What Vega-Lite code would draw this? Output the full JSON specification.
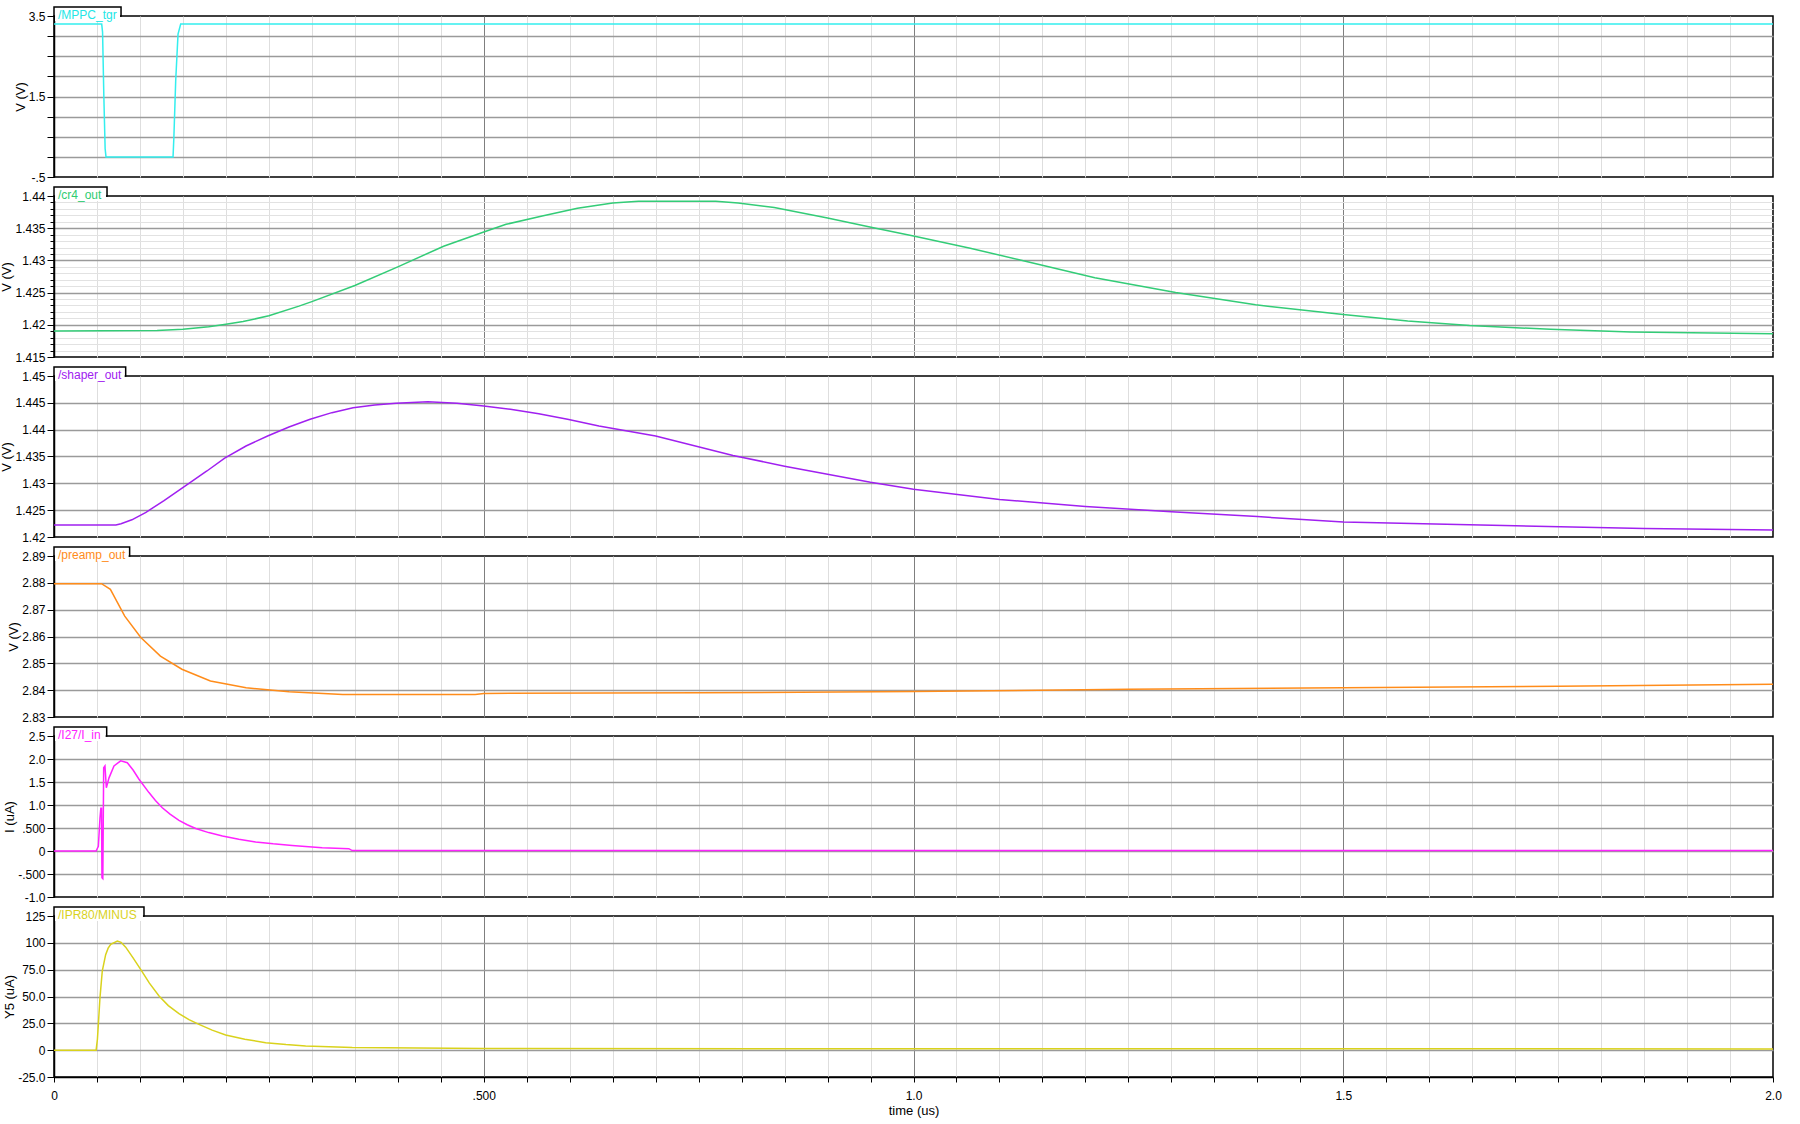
{
  "$schema": "https://vega.github.io/schema/vega-lite/v6.json",
  "background": "white",
  "padding": {"left": 0, "top": 5, "right": 0, "bottom": 0},
  "bounds": "flush",
  "spacing": 19,
  "config": {
    "view": {"stroke": "#000", "strokeWidth": 1.5},
    "axis": {
      "domainColor": "#000", "domainWidth": 1.5, "tickColor": "#000", "tickWidth": 1,
      "labelColor": "#000", "labelFont": "Liberation Sans", "labelFontSize": 12,
      "titleFont": "Liberation Sans", "titleFontSize": 13, "titleFontWeight": "normal", "titleColor": "#000",
      "labelFlush": false, "labelOverlap": false, "labelBound": false, "tickCount": 100
    },
    "axisY": {"labelPadding": 2, "titlePadding": 1, "tickSize": 7},
    "text": {"font": "Liberation Sans"}
  },
  "datasets": {
    "mppc": [
      {"t": 0, "v": 3.3}, {"t": 0.0555, "v": 3.3}, {"t": 0.0565, "v": 3.1}, {"t": 0.058, "v": 1.5},
      {"t": 0.0595, "v": 0.2}, {"t": 0.0605, "v": 0}, {"t": 0.1385, "v": 0}, {"t": 0.1395, "v": 0.5},
      {"t": 0.1416, "v": 1.9}, {"t": 0.1443, "v": 3.05}, {"t": 0.1474, "v": 3.3}, {"t": 2.0, "v": 3.3}
    ],
    "cr4": [
      {"t": 0, "v": 1.41904}, {"t": 0.12, "v": 1.4191}, {"t": 0.15, "v": 1.4193}, {"t": 0.18, "v": 1.4197},
      {"t": 0.2, "v": 1.4201}, {"t": 0.22, "v": 1.4205}, {"t": 0.25, "v": 1.4214}, {"t": 0.285, "v": 1.4229},
      {"t": 0.3, "v": 1.4236}, {"t": 0.35, "v": 1.4261}, {"t": 0.4, "v": 1.429}, {"t": 0.4533, "v": 1.4322},
      {"t": 0.5, "v": 1.4344}, {"t": 0.526, "v": 1.4356}, {"t": 0.568, "v": 1.4369}, {"t": 0.609, "v": 1.4381},
      {"t": 0.65, "v": 1.4389}, {"t": 0.68, "v": 1.4392}, {"t": 0.77, "v": 1.4392}, {"t": 0.796, "v": 1.4389},
      {"t": 0.838, "v": 1.4382}, {"t": 0.9, "v": 1.4366}, {"t": 0.952, "v": 1.4351}, {"t": 1.0, "v": 1.4338},
      {"t": 1.066, "v": 1.4319}, {"t": 1.129, "v": 1.4299}, {"t": 1.211, "v": 1.4273}, {"t": 1.305, "v": 1.425},
      {"t": 1.398, "v": 1.4231}, {"t": 1.5, "v": 1.4216}, {"t": 1.575, "v": 1.4206}, {"t": 1.647, "v": 1.4199},
      {"t": 1.741, "v": 1.4193}, {"t": 1.835, "v": 1.4189}, {"t": 2.0, "v": 1.4186}
    ],
    "shaper": [
      {"t": 0, "v": 1.42224}, {"t": 0.072, "v": 1.42224}, {"t": 0.078, "v": 1.42248}, {"t": 0.0906, "v": 1.4232},
      {"t": 0.107, "v": 1.4246}, {"t": 0.128, "v": 1.4268}, {"t": 0.157, "v": 1.43},
      {"t": 0.1779, "v": 1.4323}, {"t": 0.1986, "v": 1.4347}, {"t": 0.2234, "v": 1.43696}, {"t": 0.2485, "v": 1.43882},
      {"t": 0.2734, "v": 1.4405}, {"t": 0.298, "v": 1.44193}, {"t": 0.3233, "v": 1.44317}, {"t": 0.348, "v": 1.4441},
      {"t": 0.3731, "v": 1.44461}, {"t": 0.398, "v": 1.44491}, {"t": 0.435, "v": 1.4452}, {"t": 0.4688, "v": 1.44491},
      {"t": 0.5, "v": 1.4444}, {"t": 0.531, "v": 1.44379}, {"t": 0.564, "v": 1.44298}, {"t": 0.5975, "v": 1.44193},
      {"t": 0.634, "v": 1.44068}, {"t": 0.7, "v": 1.4388}, {"t": 0.79, "v": 1.4352}, {"t": 0.85, "v": 1.4332},
      {"t": 0.95, "v": 1.4302}, {"t": 1.0, "v": 1.4289}, {"t": 1.1, "v": 1.427}, {"t": 1.2, "v": 1.4257},
      {"t": 1.3, "v": 1.4247}, {"t": 1.4, "v": 1.4238}, {"t": 1.5, "v": 1.4228}, {"t": 1.7, "v": 1.4221},
      {"t": 1.85, "v": 1.4216}, {"t": 2.0, "v": 1.4213}
    ],
    "preamp": [
      {"t": 0, "v": 2.8797}, {"t": 0.0553, "v": 2.8797}, {"t": 0.0656, "v": 2.8776}, {"t": 0.0823, "v": 2.8676},
      {"t": 0.101, "v": 2.8596}, {"t": 0.1238, "v": 2.8527}, {"t": 0.1488, "v": 2.8478}, {"t": 0.182, "v": 2.8434},
      {"t": 0.2235, "v": 2.8409}, {"t": 0.2735, "v": 2.8394}, {"t": 0.336, "v": 2.8384}, {"t": 0.49, "v": 2.8384},
      {"t": 0.5, "v": 2.8388}, {"t": 0.75, "v": 2.839}, {"t": 1.0, "v": 2.8395}, {"t": 1.25, "v": 2.8403},
      {"t": 1.5, "v": 2.8409}, {"t": 1.75, "v": 2.8415}, {"t": 2.0, "v": 2.8422}
    ],
    "iin": [
      {"t": 0, "v": 0}, {"t": 0.049, "v": 0}, {"t": 0.0516, "v": 0.1}, {"t": 0.0535, "v": 0.72},
      {"t": 0.0545, "v": 0.93}, {"t": 0.0553, "v": 0.93}, {"t": 0.0558, "v": -0.58}, {"t": 0.0568, "v": -0.6},
      {"t": 0.0578, "v": 1.81}, {"t": 0.0593, "v": 1.85}, {"t": 0.0609, "v": 1.375}, {"t": 0.064, "v": 1.59},
      {"t": 0.0698, "v": 1.85}, {"t": 0.0776, "v": 1.96}, {"t": 0.0853, "v": 1.92}, {"t": 0.092, "v": 1.76},
      {"t": 0.0989, "v": 1.56}, {"t": 0.1105, "v": 1.27}, {"t": 0.118, "v": 1.1}, {"t": 0.126, "v": 0.94},
      {"t": 0.135, "v": 0.8}, {"t": 0.1454, "v": 0.667}, {"t": 0.155, "v": 0.57}, {"t": 0.1649, "v": 0.49},
      {"t": 0.18, "v": 0.4}, {"t": 0.196, "v": 0.326}, {"t": 0.215, "v": 0.255}, {"t": 0.2346, "v": 0.196},
      {"t": 0.255, "v": 0.155}, {"t": 0.277, "v": 0.12}, {"t": 0.312, "v": 0.07}, {"t": 0.343, "v": 0.05},
      {"t": 0.347, "v": 0.01}, {"t": 2.0, "v": 0.01}
    ],
    "ipr": [
      {"t": 0, "v": 0}, {"t": 0.049, "v": 0}, {"t": 0.0505, "v": 10}, {"t": 0.0516, "v": 24}, {"t": 0.0535, "v": 49},
      {"t": 0.0562, "v": 74}, {"t": 0.0601, "v": 89}, {"t": 0.063, "v": 95}, {"t": 0.066, "v": 98.7}, {"t": 0.0737, "v": 101.7},
      {"t": 0.078, "v": 100.5}, {"t": 0.0834, "v": 96}, {"t": 0.092, "v": 86}, {"t": 0.1008, "v": 75.3}, {"t": 0.111, "v": 62.5},
      {"t": 0.1222, "v": 50.5}, {"t": 0.133, "v": 41.5}, {"t": 0.1454, "v": 34}, {"t": 0.157, "v": 28.5}, {"t": 0.1687, "v": 24},
      {"t": 0.184, "v": 18.7}, {"t": 0.1997, "v": 14.2}, {"t": 0.222, "v": 10.2}, {"t": 0.2463, "v": 7}, {"t": 0.27, "v": 5.2},
      {"t": 0.2928, "v": 3.9}, {"t": 0.347, "v": 2.4}, {"t": 0.5, "v": 1.6}, {"t": 1.0, "v": 1.3}, {"t": 2.0, "v": 1.2}
    ]
  },
  "vconcat": [
    {
      "width": 1719, "height": 161,
      "layer": [
        {
          "data": {"name": "mppc"},
          "mark": {"type": "line", "color": "#33eeee", "strokeWidth": 1.5},
          "encoding": {
            "x": {"field": "t", "type": "quantitative", "scale": {"domain": [0, 2], "nice": false, "zero": false},
              "axis": {"values": [0,0.05,0.1,0.15,0.2,0.25,0.3,0.35,0.4,0.45,0.5,0.55,0.6,0.65,0.7,0.75,0.8,0.85,0.9,0.95,1,1.05,1.1,1.15,1.2,1.25,1.3,1.35,1.4,1.45,1.5,1.55,1.6,1.65,1.7,1.75,1.8,1.85,1.9,1.95,2],
                "tickCount": 100, "labels": false, "ticks": false, "domain": false, "title": null, "grid": true, "gridWidth": 1,
                "gridColor": {"condition": [{"test": "datum.value == 0 || datum.value == 2", "value": "transparent"}, {"test": "datum.value == 0.5 || datum.value == 1 || datum.value == 1.5", "value": "#7f7f7f"}], "value": "#dedede"}}},
            "y": {"field": "v", "type": "quantitative", "scale": {"domain": [-0.5, 3.5], "nice": false, "zero": false},
              "axis": {"values": [-0.5,0,0.5,1,1.5,2,2.5,3,3.5], "tickCount": 100, "title": "V (V)", "grid": true, "gridWidth": 1.5,
                "labelExpr": "datum.value == 3.5 ? '3.5' : datum.value == 1.5 ? '1.5' : datum.value == -0.5 ? '-.5' : ''",
                "gridColor": {"condition": {"test": "datum.value == -0.5 || datum.value == 3.5", "value": "transparent"}, "value": "#9a9a9a"}}}
          }
        },
        {
          "data": {"values": [{"label": "/MPPC_tgr"}]},
          "mark": {"type": "rect", "fill": "white", "stroke": "#000", "strokeWidth": 1.5},
          "encoding": {"x": {"datum": 0}, "x2": {"datum": 0.078}, "y": {"datum": 3.5}, "y2": {"datum": 3.7236}}
        },
        {
          "data": {"values": [{"label": "/MPPC_tgr"}]},
          "mark": {"type": "rect", "fill": "white", "strokeWidth": 0},
          "encoding": {"x": {"datum": 0.0012}, "x2": {"datum": 0.0768}, "y": {"datum": 3.3758}, "y2": {"datum": 3.5248}}
        },
        {
          "data": {"values": [{"label": "/MPPC_tgr"}]},
          "mark": {"type": "text", "align": "left", "baseline": "alphabetic", "dx": 4, "dy": 3, "fontSize": 12, "color": "#22e6e6"},
          "encoding": {"x": {"datum": 0}, "y": {"datum": 3.5}, "text": {"field": "label"}}
        }
      ]
    },
    {
      "width": 1719, "height": 161,
      "layer": [
        {
          "data": {"name": "cr4"},
          "mark": {"type": "line", "color": "#33cc77", "strokeWidth": 1.5},
          "encoding": {
            "x": {"field": "t", "type": "quantitative", "scale": {"domain": [0, 2], "nice": false, "zero": false},
              "axis": {"values": [0,0.05,0.1,0.15,0.2,0.25,0.3,0.35,0.4,0.45,0.5,0.55,0.6,0.65,0.7,0.75,0.8,0.85,0.9,0.95,1,1.05,1.1,1.15,1.2,1.25,1.3,1.35,1.4,1.45,1.5,1.55,1.6,1.65,1.7,1.75,1.8,1.85,1.9,1.95,2],
                "tickCount": 100, "labels": false, "ticks": false, "domain": false, "title": null, "grid": true, "gridWidth": 1,
                "gridColor": {"condition": [{"test": "datum.value == 0 || datum.value == 2", "value": "transparent"}, {"test": "datum.value == 0.5 || datum.value == 1 || datum.value == 1.5", "value": "#7f7f7f"}], "value": "#dedede"}}},
            "y": {"field": "v", "type": "quantitative", "scale": {"domain": [1.415, 1.44], "nice": false, "zero": false},
              "axis": {"values": [1.415,1.416,1.417,1.418,1.419,1.42,1.421,1.422,1.423,1.424,1.425,1.426,1.427,1.428,1.429,1.43,1.431,1.432,1.433,1.434,1.435,1.436,1.437,1.438,1.439,1.44],
                "tickCount": 100, "title": "V (V)", "grid": true,
                "labelExpr": "indexof([1.415,1.42,1.425,1.43,1.435,1.44], datum.value) >= 0 ? format(datum.value, '~g') : ''",
                "tickSize": {"condition": {"test": "indexof([1.415,1.42,1.425,1.43,1.435,1.44], datum.value) >= 0", "value": 7}, "value": 4},
                "gridWidth": {"condition": {"test": "indexof([1.42,1.425,1.43,1.435], datum.value) >= 0", "value": 1.5}, "value": 1},
                "gridColor": {"condition": [{"test": "datum.value == 1.415 || datum.value == 1.44", "value": "transparent"}, {"test": "indexof([1.42,1.425,1.43,1.435], datum.value) >= 0", "value": "#9a9a9a"}], "value": "#e2e2e2"}}}
          }
        },
        {
          "data": {"values": [{"label": "/cr4_out"}]},
          "mark": {"type": "rect", "fill": "white", "stroke": "#000", "strokeWidth": 1.5},
          "encoding": {"x": {"datum": 0}, "x2": {"datum": 0.0617}, "y": {"datum": 1.44}, "y2": {"datum": 1.4414}}
        },
        {
          "data": {"values": [{"label": "/cr4_out"}]},
          "mark": {"type": "rect", "fill": "white", "strokeWidth": 0},
          "encoding": {"x": {"datum": 0.0012}, "x2": {"datum": 0.0605}, "y": {"datum": 1.439224}, "y2": {"datum": 1.440155}}
        },
        {
          "data": {"values": [{"label": "/cr4_out"}]},
          "mark": {"type": "text", "align": "left", "baseline": "alphabetic", "dx": 4, "dy": 3, "fontSize": 12, "color": "#2ecc71"},
          "encoding": {"x": {"datum": 0}, "y": {"datum": 1.44}, "text": {"field": "label"}}
        }
      ]
    },
    {
      "width": 1719, "height": 161,
      "layer": [
        {
          "data": {"name": "shaper"},
          "mark": {"type": "line", "color": "#a020f0", "strokeWidth": 1.5},
          "encoding": {
            "x": {"field": "t", "type": "quantitative", "scale": {"domain": [0, 2], "nice": false, "zero": false},
              "axis": {"values": [0,0.05,0.1,0.15,0.2,0.25,0.3,0.35,0.4,0.45,0.5,0.55,0.6,0.65,0.7,0.75,0.8,0.85,0.9,0.95,1,1.05,1.1,1.15,1.2,1.25,1.3,1.35,1.4,1.45,1.5,1.55,1.6,1.65,1.7,1.75,1.8,1.85,1.9,1.95,2],
                "tickCount": 100, "labels": false, "ticks": false, "domain": false, "title": null, "grid": true, "gridWidth": 1,
                "gridColor": {"condition": [{"test": "datum.value == 0 || datum.value == 2", "value": "transparent"}, {"test": "datum.value == 0.5 || datum.value == 1 || datum.value == 1.5", "value": "#7f7f7f"}], "value": "#dedede"}}},
            "y": {"field": "v", "type": "quantitative", "scale": {"domain": [1.42, 1.45], "nice": false, "zero": false},
              "axis": {"values": [1.42,1.425,1.43,1.435,1.44,1.445,1.45], "tickCount": 100, "title": "V (V)", "grid": true, "gridWidth": 1.5, "format": "~g",
                "gridColor": {"condition": {"test": "datum.value == 1.42 || datum.value == 1.45", "value": "transparent"}, "value": "#9a9a9a"}}}
          }
        },
        {
          "data": {"values": [{"label": "/shaper_out"}]},
          "mark": {"type": "rect", "fill": "white", "stroke": "#000", "strokeWidth": 1.5},
          "encoding": {"x": {"datum": 0}, "x2": {"datum": 0.0834}, "y": {"datum": 1.45}, "y2": {"datum": 1.451677}}
        },
        {
          "data": {"values": [{"label": "/shaper_out"}]},
          "mark": {"type": "rect", "fill": "white", "strokeWidth": 0},
          "encoding": {"x": {"datum": 0.0012}, "x2": {"datum": 0.0822}, "y": {"datum": 1.449068}, "y2": {"datum": 1.450186}}
        },
        {
          "data": {"values": [{"label": "/shaper_out"}]},
          "mark": {"type": "text", "align": "left", "baseline": "alphabetic", "dx": 4, "dy": 3, "fontSize": 12, "color": "#a020f0"},
          "encoding": {"x": {"datum": 0}, "y": {"datum": 1.45}, "text": {"field": "label"}}
        }
      ]
    },
    {
      "width": 1719, "height": 161,
      "layer": [
        {
          "data": {"name": "preamp"},
          "mark": {"type": "line", "color": "#ff8c1a", "strokeWidth": 1.5},
          "encoding": {
            "x": {"field": "t", "type": "quantitative", "scale": {"domain": [0, 2], "nice": false, "zero": false},
              "axis": {"values": [0,0.05,0.1,0.15,0.2,0.25,0.3,0.35,0.4,0.45,0.5,0.55,0.6,0.65,0.7,0.75,0.8,0.85,0.9,0.95,1,1.05,1.1,1.15,1.2,1.25,1.3,1.35,1.4,1.45,1.5,1.55,1.6,1.65,1.7,1.75,1.8,1.85,1.9,1.95,2],
                "tickCount": 100, "labels": false, "ticks": false, "domain": false, "title": null, "grid": true, "gridWidth": 1,
                "gridColor": {"condition": [{"test": "datum.value == 0 || datum.value == 2", "value": "transparent"}, {"test": "datum.value == 0.5 || datum.value == 1 || datum.value == 1.5", "value": "#7f7f7f"}], "value": "#dedede"}}},
            "y": {"field": "v", "type": "quantitative", "scale": {"domain": [2.83, 2.89], "nice": false, "zero": false},
              "axis": {"values": [2.83,2.84,2.85,2.86,2.87,2.88,2.89], "tickCount": 100, "title": "V (V)", "grid": true, "gridWidth": 1.5, "format": ".2f",
                "gridColor": {"condition": {"test": "datum.value == 2.83 || datum.value == 2.89", "value": "transparent"}, "value": "#9a9a9a"}}}
          }
        },
        {
          "data": {"values": [{"label": "/preamp_out"}]},
          "mark": {"type": "rect", "fill": "white", "stroke": "#000", "strokeWidth": 1.5},
          "encoding": {"x": {"datum": 0}, "x2": {"datum": 0.088}, "y": {"datum": 2.89}, "y2": {"datum": 2.893354}}
        },
        {
          "data": {"values": [{"label": "/preamp_out"}]},
          "mark": {"type": "rect", "fill": "white", "strokeWidth": 0},
          "encoding": {"x": {"datum": 0.0012}, "x2": {"datum": 0.0868}, "y": {"datum": 2.888137}, "y2": {"datum": 2.890373}}
        },
        {
          "data": {"values": [{"label": "/preamp_out"}]},
          "mark": {"type": "text", "align": "left", "baseline": "alphabetic", "dx": 4, "dy": 3, "fontSize": 12, "color": "#ff8c1a"},
          "encoding": {"x": {"datum": 0}, "y": {"datum": 2.89}, "text": {"field": "label"}}
        }
      ]
    },
    {
      "width": 1719, "height": 161,
      "layer": [
        {
          "data": {"name": "iin"},
          "mark": {"type": "line", "color": "#ff22ff", "strokeWidth": 1.5},
          "encoding": {
            "x": {"field": "t", "type": "quantitative", "scale": {"domain": [0, 2], "nice": false, "zero": false},
              "axis": {"values": [0,0.05,0.1,0.15,0.2,0.25,0.3,0.35,0.4,0.45,0.5,0.55,0.6,0.65,0.7,0.75,0.8,0.85,0.9,0.95,1,1.05,1.1,1.15,1.2,1.25,1.3,1.35,1.4,1.45,1.5,1.55,1.6,1.65,1.7,1.75,1.8,1.85,1.9,1.95,2],
                "tickCount": 100, "labels": false, "ticks": false, "domain": false, "title": null, "grid": true, "gridWidth": 1,
                "gridColor": {"condition": [{"test": "datum.value == 0 || datum.value == 2", "value": "transparent"}, {"test": "datum.value == 0.5 || datum.value == 1 || datum.value == 1.5", "value": "#7f7f7f"}], "value": "#dedede"}}},
            "y": {"field": "v", "type": "quantitative", "scale": {"domain": [-1, 2.5], "nice": false, "zero": false},
              "axis": {"values": [-1,-0.5,0,0.5,1,1.5,2,2.5], "tickCount": 100, "title": "I (uA)", "grid": true, "gridWidth": 1.5,
                "labelExpr": "datum.value == -1 ? '-1.0' : datum.value == -0.5 ? '-.500' : datum.value == 0 ? '0' : datum.value == 0.5 ? '.500' : format(datum.value, '.1f')",
                "gridColor": {"condition": {"test": "datum.value == -1 || datum.value == 2.5", "value": "transparent"}, "value": "#9a9a9a"}}}
          }
        },
        {
          "data": {"values": [{"label": "/I27/I_in"}]},
          "mark": {"type": "rect", "fill": "white", "stroke": "#000", "strokeWidth": 1.5},
          "encoding": {"x": {"datum": 0}, "x2": {"datum": 0.0613}, "y": {"datum": 2.5}, "y2": {"datum": 2.6957}}
        },
        {
          "data": {"values": [{"label": "/I27/I_in"}]},
          "mark": {"type": "rect", "fill": "white", "strokeWidth": 0},
          "encoding": {"x": {"datum": 0.0012}, "x2": {"datum": 0.0601}, "y": {"datum": 2.3913}, "y2": {"datum": 2.5217}}
        },
        {
          "data": {"values": [{"label": "/I27/I_in"}]},
          "mark": {"type": "text", "align": "left", "baseline": "alphabetic", "dx": 4, "dy": 3, "fontSize": 12, "color": "#ff22ff"},
          "encoding": {"x": {"datum": 0}, "y": {"datum": 2.5}, "text": {"field": "label"}}
        }
      ]
    },
    {
      "width": 1719, "height": 161,
      "layer": [
        {
          "data": {"name": "ipr"},
          "mark": {"type": "line", "color": "#d9d21c", "strokeWidth": 1.5},
          "encoding": {
            "x": {"field": "t", "type": "quantitative", "scale": {"domain": [0, 2], "nice": false, "zero": false},
              "axis": {"values": [0,0.05,0.1,0.15,0.2,0.25,0.3,0.35,0.4,0.45,0.5,0.55,0.6,0.65,0.7,0.75,0.8,0.85,0.9,0.95,1,1.05,1.1,1.15,1.2,1.25,1.3,1.35,1.4,1.45,1.5,1.55,1.6,1.65,1.7,1.75,1.8,1.85,1.9,1.95,2],
                "tickCount": 100,
                "labelExpr": "datum.value == 0 ? '0' : datum.value == 0.5 ? '.500' : datum.value == 1 ? '1.0' : datum.value == 1.5 ? '1.5' : datum.value == 2 ? '2.0' : ''",
                "ticks": true, "tickSize": 5, "labelPadding": 8, "domain": true, "title": "time (us)", "titlePadding": 3,
                "grid": true, "gridWidth": 1,
                "gridColor": {"condition": [{"test": "datum.value == 0 || datum.value == 2", "value": "transparent"}, {"test": "datum.value == 0.5 || datum.value == 1 || datum.value == 1.5", "value": "#7f7f7f"}], "value": "#dedede"}}},
            "y": {"field": "v", "type": "quantitative", "scale": {"domain": [-25, 125], "nice": false, "zero": false},
              "axis": {"values": [-25,0,25,50,75,100,125], "tickCount": 100, "title": "Y5 (uA)", "grid": true, "gridWidth": 1.5,
                "labelExpr": "datum.value == -25 ? '-25.0' : datum.value == 0 ? '0' : datum.value >= 100 ? format(datum.value, 'd') : format(datum.value, '.1f')",
                "gridColor": {"condition": {"test": "datum.value == -25 || datum.value == 125", "value": "transparent"}, "value": "#9a9a9a"}}}
          }
        },
        {
          "data": {"values": [{"label": "/IPR80/MINUS"}]},
          "mark": {"type": "rect", "fill": "white", "stroke": "#000", "strokeWidth": 1.5},
          "encoding": {"x": {"datum": 0}, "x2": {"datum": 0.1047}, "y": {"datum": 125}, "y2": {"datum": 133.385}}
        },
        {
          "data": {"values": [{"label": "/IPR80/MINUS"}]},
          "mark": {"type": "rect", "fill": "white", "strokeWidth": 0},
          "encoding": {"x": {"datum": 0.0012}, "x2": {"datum": 0.1035}, "y": {"datum": 120.342}, "y2": {"datum": 125.932}}
        },
        {
          "data": {"values": [{"label": "/IPR80/MINUS"}]},
          "mark": {"type": "text", "align": "left", "baseline": "alphabetic", "dx": 4, "dy": 3, "fontSize": 12, "color": "#d9d21c"},
          "encoding": {"x": {"datum": 0}, "y": {"datum": 125}, "text": {"field": "label"}}
        }
      ]
    }
  ]
}
